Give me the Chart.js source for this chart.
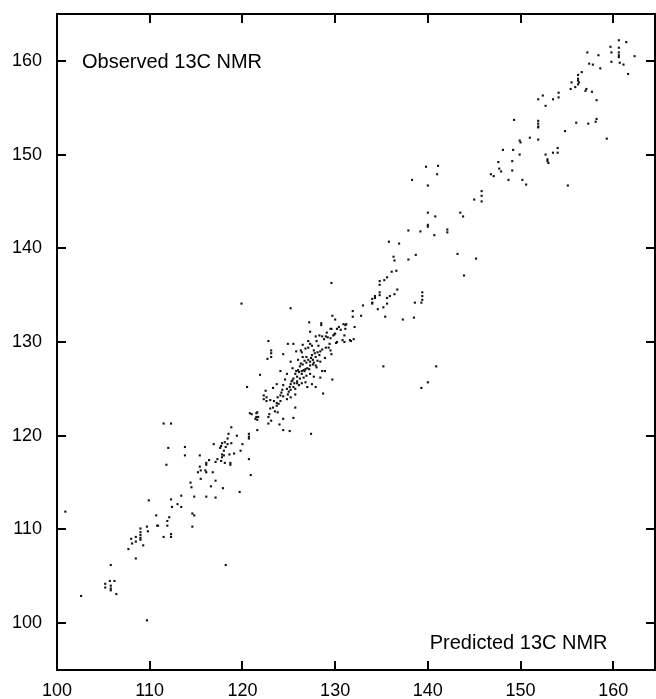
<!DOCTYPE html>
<html><head><meta charset="utf-8">
<script src="https://cdn.jsdelivr.net/npm/chart.js@4/dist/chart.umd.min.js"></script>
<style>html,body{margin:0;padding:0;background:#fff;}#wrap{width:656px;height:699px;position:relative;}</style>
</head><body><div id="wrap"><canvas id="c" width="656" height="699"></canvas></div>
<script>
const predicted13C = [
160.6,161.4,159.7,160.6,160.6,160.6,160.6,157.2,158.4,159.8,162.3,159.8,157.4,157.8,160.7,161.1,158.6,161.6,156.6,156.2,
156.2,156.2,155.5,156.3,156.2,155.9,155.4,157.1,157.0,157.7,154.1,154.1,152.4,153.5,151.9,158.2,152.7,149.3,151.9,151.9,
151.9,151.9,156.0,157.3,158.2,158.1,154.8,151.0,149.9,150.0,151.9,159.3,148.1,149.2,154.0,154.0,153.5,149.9,152.7,152.9,
152.9,153.0,147.6,149.1,147.7,147.9,146.8,147.1,149.1,148.7,150.2,150.6,155.1,139.8,141.1,141.0,140.0,145.8,145.8,145.0,
138.3,145.8,140.0,140.8,143.5,143.8,140.0,140.0,137.9,139.2,140.7,142.1,142.1,135.8,136.9,136.3,136.4,137.9,138.7,143.2,
145.2,136.6,136.1,135.6,135.3,134.8,134.8,143.9,136.7,136.4,134.8,134.8,134.3,134.3,135.6,135.9,134.0,134.0,134.0,135.6,
139.4,139.4,139.4,139.3,138.6,133.0,135.2,134.6,131.9,129.7,131.9,132.8,135.4,138.5,137.3,130.0,131.2,131.1,132.1,129.6,
130.6,131.1,130.0,129.8,131.0,130.8,131.0,131.6,132.0,130.1,129.6,135.2,140.9,129.7,140.0,139.3,
119.9,125.2,127.2,128.5,128.5,127.3,129.5,130.2,128.3,128.6,129.0,129.2,129.5,129.9,131.7,130.2,127.1,127.3,127.5,128.0,
124.9,125.5,122.8,123.1,123.1,123.1,122.7,124.4,126.4,126.3,126.8,127.1,127.7,128.1,128.6,129.0,129.3,129.4,129.5,126.5,
126.9,127.5,127.9,128.3,128.1,127.7,127.3,126.9,126.5,125.2,126.2,126.4,126.8,127.0,127.3,127.6,127.9,128.6,128.9,128.4,
124.1,121.9,125.7,125.9,125.5,125.3,125.9,126.2,126.6,126.9,127.3,126.4,125.2,125.5,125.7,126.1,126.4,125.2,125.0,124.6,
124.4,123.7,123.3,125.7,125.2,124.8,124.4,124.1,124.1,123.7,123.4,123.9,122.5,122.3,122.3,122.6,122.6,120.5,128.7,127.9,
127.5,127.0,123.0,123.3,123.7,121.5,121.7,121.4,121.0,122.9,122.8,124.4,125.7,125.5,124.4,127.4,125.1,122.8,123.1,124.0,
123.5,123.8,
111.5,112.3,120.8,121.6,121.5,121.6,121.6,118.8,118.5,118.4,119.4,120.7,120.7,120.7,116.9,117.8,117.7,117.6,118.1,118.2,
118.4,118.8,118.0,117.8,118.0,118.6,117.8,117.7,117.3,117.1,118.7,118.7,118.1,119.1,119.8,120.0,120.7,120.9,119.7,113.8,
113.8,112.0,111.8,115.4,115.4,115.5,115.2,116.1,116.1,116.4,116.0,116.1,116.8,115.5,114.4,114.5,116.6,117.1,117.9,114.8,
116.1,117.1,113.4,112.3,113.0,112.4,113.4,109.9,
100.9,110.7,110.9,109.7,109.0,109.0,109.8,108.5,109.0,109.0,109.0,108.0,108.1,108.5,109.3,107.7,108.5,105.8,105.7,106.2,
105.2,105.2,105.8,105.8,105.8,106.4,102.6,109.7,118.2,114.6,114.8,114.6,111.5,112.3,112.3,112.1,111.9,111.9,110.8,
125.4,125.8,126.0,126.3,126.7,126.6,127.1,127.4,127.8,128.2,128.4,127.6,126.1,125.6,125.1,124.8,124.9,124.3,125.9,126.7,
127.2,128.0,128.4,126.0,125.4,124.8,124.2,123.8,123.0,126.8,127.7,128.9,129.6,128.8,129.1,130.4,130.9,127.9,126.5,125.8
];
const observed13C = [
162.2,162.0,161.5,161.4,160.9,160.6,160.4,160.9,160.6,160.9,160.5,159.9,159.7,159.6,159.8,159.6,159.2,158.6,158.8,158.5,
158.1,157.9,157.7,157.7,157.5,157.2,157.0,157.0,156.8,156.7,156.6,156.1,156.3,155.9,155.9,155.8,155.2,153.7,153.6,153.3,
153.0,152.9,153.4,153.3,153.8,153.5,152.5,151.8,151.5,151.3,151.6,151.7,150.5,150.5,150.7,150.2,150.2,150.0,150.0,149.5,
149.3,149.1,149.2,149.3,148.5,148.2,147.9,147.7,148.3,147.3,147.3,146.8,146.7,148.7,148.8,147.9,146.7,146.1,145.6,145.2,
147.3,145.0,143.8,143.4,143.8,143.4,142.5,142.3,141.9,141.8,141.4,142.0,141.7,140.7,140.5,139.1,138.7,138.8,139.3,139.4,
138.9,137.6,137.5,136.9,136.6,136.5,136.1,137.1,135.6,135.1,135.3,135.0,134.9,134.7,134.7,134.9,134.6,134.2,134.1,134.1,
135.3,134.9,134.5,134.2,134.2,133.9,133.7,133.5,133.3,132.8,132.7,132.8,132.7,132.6,132.4,132.4,131.9,131.8,131.6,131.4,
131.3,131.4,130.9,130.7,130.7,130.2,130.0,130.2,130.3,129.9,136.3,127.4,127.4,126.0,125.7,125.1,
134.1,133.6,132.1,132.0,131.8,131.1,131.4,131.4,130.7,130.6,130.6,130.5,130.4,130.8,130.1,130.0,130.1,129.8,129.6,130.1,
129.8,129.8,130.1,129.1,128.8,128.4,128.2,128.7,128.9,129.1,129.3,129.4,129.1,128.9,129.2,129.4,129.4,129.8,129.1,128.4,
128.4,128.6,128.4,128.6,128.0,127.8,127.9,127.8,127.6,127.9,127.4,126.9,127.1,127.2,127.5,127.6,127.5,126.9,126.9,126.2,
126.9,126.5,126.6,126.3,126.1,125.8,125.8,126.1,126.2,126.4,126.6,126.6,125.5,125.2,125.0,125.4,125.6,124.9,124.7,126.0,
125.4,125.5,125.1,124.4,124.1,123.9,124.2,124.3,123.7,123.5,123.7,123.4,124.8,124.3,123.9,124.1,123.7,125.2,124.5,125.2,
125.5,125.2,122.9,123.0,123.2,122.4,122.0,121.8,122.3,122.3,122.0,121.8,123.0,121.9,120.6,120.2,120.5,121.3,121.6,121.2,
122.6,122.5,
121.3,121.3,122.4,122.5,122.0,121.7,120.6,120.9,120.2,119.7,120.0,120.2,119.9,119.7,119.1,119.2,118.9,118.7,119.3,118.8,
119.1,119.2,118.4,118.0,117.9,118.0,117.7,117.3,117.5,117.2,117.1,116.9,117.1,118.1,118.4,119.1,117.5,115.8,114.0,118.8,
117.9,118.7,116.9,117.9,116.7,116.3,116.1,117.1,116.9,117.4,116.3,116.1,116.1,115.4,115.0,114.5,114.6,115.2,114.4,113.5,
113.5,113.4,113.6,113.2,112.7,112.4,112.4,113.1,
111.9,111.5,110.4,110.3,110.1,109.7,109.8,109.2,109.4,109.1,108.9,109.0,108.5,108.7,108.3,107.9,106.9,106.2,104.5,104.5,
104.2,103.8,104.0,103.7,103.5,103.1,102.9,100.3,106.2,111.7,111.5,110.3,109.2,109.5,109.2,111.3,110.9,110.4,110.4,
125.9,126.9,127.0,127.7,128.0,127.0,128.1,128.3,128.8,129.6,129.0,128.1,126.8,125.6,125.2,125.0,124.4,124.9,125.6,126.9,
127.1,127.3,127.9,128.1,127.2,126.6,124.6,124.1,123.8,125.7,126.3,128.3,128.7,130.3,131.0,131.6,131.9,130.6,129.7,129.0
];
const xTickValues = [100,110,120,130,140,150,160];
const yTickValues = [100,110,120,130,140,150,160];
const xAxisTitle = 'Predicted 13C NMR';
const yAxisTitle = 'Observed 13C NMR';

const FONT = '"Liberation Sans", Arial, Helvetica, sans-serif';
const points = predicted13C.map((x, i) => ({x: x, y: observed13C[i]}));

const framePlugin = {
  id: 'frame',
  afterDatasetsDraw(chart) {
    const ctx = chart.ctx, a = chart.chartArea;
    const xs = chart.scales.x, ys = chart.scales.y;
    ctx.save();
    ctx.strokeStyle = '#000';
    ctx.lineWidth = 2;
    ctx.strokeRect(a.left, a.top, a.right - a.left, a.bottom - a.top);
    const L = 9;
    ctx.beginPath();
    xTickValues.forEach(v => {
      const p = Math.round(xs.getPixelForValue(v));
      ctx.moveTo(p, a.bottom); ctx.lineTo(p, a.bottom - L);
      ctx.moveTo(p, a.top); ctx.lineTo(p, a.top + L);
    });
    yTickValues.forEach(v => {
      const p = Math.round(ys.getPixelForValue(v));
      ctx.moveTo(a.left, p); ctx.lineTo(a.left + L, p);
      ctx.moveTo(a.right, p); ctx.lineTo(a.right - L, p);
    });
    ctx.stroke();
    ctx.fillStyle = '#000';
    ctx.font = '20px ' + FONT;
    ctx.textBaseline = 'alphabetic';
    ctx.textAlign = 'left';
    ctx.fillText(yAxisTitle, a.left + 25, ys.getPixelForValue(160) + 7);
    ctx.fillText(xAxisTitle, xs.getPixelForValue(140.2), a.bottom - 21);
    ctx.restore();
  }
};

const noPad = s => { s.paddingTop = 0; s.paddingBottom = 0; s.paddingLeft = 0; s.paddingRight = 0; };

new Chart(document.getElementById('c'), {
  type: 'scatter',
  data: { datasets: [{
    data: points,
    pointStyle: 'rect',
    pointRadius: 1.5,
    pointHoverRadius: 1.5,
    pointBorderWidth: 0,
    pointBackgroundColor: '#111',
    pointBorderColor: '#111',
    showLine: false
  }]},
  options: {
    responsive: false,
    animation: false,
    devicePixelRatio: 1,
    layout: { autoPadding: false, padding: { top: 14, right: 1, left: 0, bottom: 0 } },
    plugins: { legend: { display: false }, tooltip: { enabled: false } },
    scales: {
      x: {
        type: 'linear', position: 'bottom', min: 100, max: 164.5,
        grid: { display: false, drawTicks: false },
        border: { display: false },
        afterBuildTicks: s => { s.ticks = xTickValues.map(v => ({value: v})); },
        afterFit: s => { s.height = 29; noPad(s); },
        ticks: { color: '#000', padding: 10, maxRotation: 0, autoSkip: false,
                 font: { family: FONT, size: 18 } }
      },
      y: {
        type: 'linear', position: 'left', min: 95, max: 165,
        grid: { display: false, drawTicks: false },
        border: { display: false },
        afterBuildTicks: s => { s.ticks = yTickValues.map(v => ({value: v})); },
        afterFit: s => { s.width = 57; noPad(s); },
        ticks: { color: '#000', padding: 15, autoSkip: false,
                 font: { family: FONT, size: 18 } }
      }
    }
  },
  plugins: [framePlugin]
});
</script></body></html>
